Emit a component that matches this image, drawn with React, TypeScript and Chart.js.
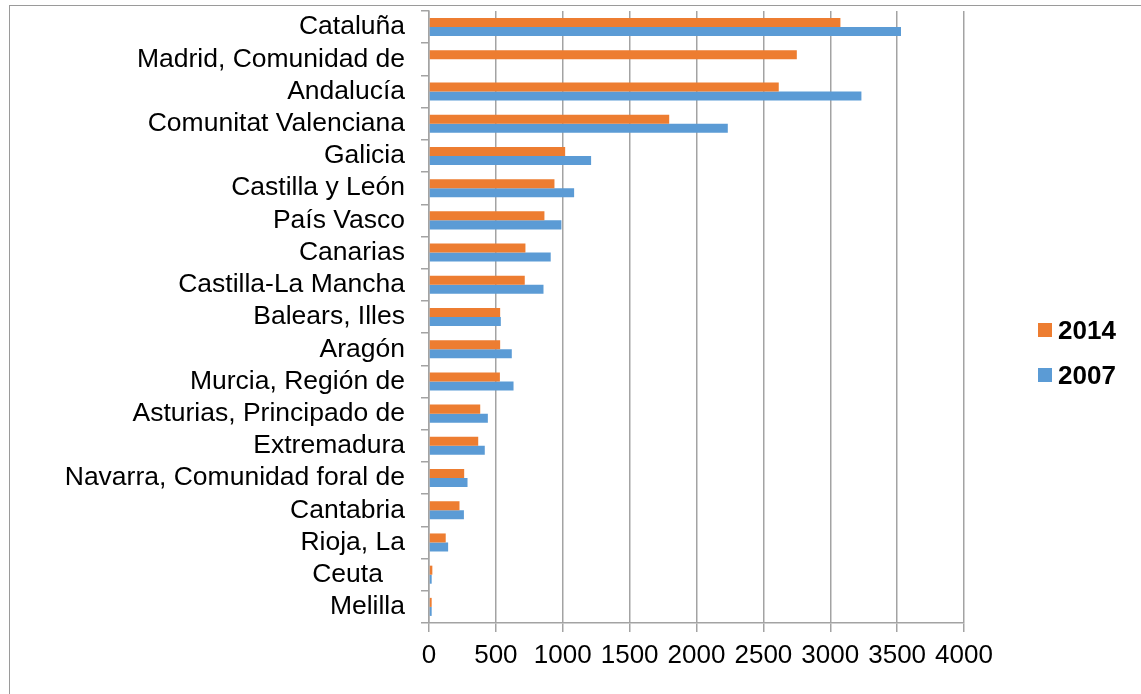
import React, { useEffect, useRef } from "react";
import { Chart, registerables } from "chart.js";

Chart.register(...registerables);

const regions: string[] = [
  "Cataluña",
  "Madrid, Comunidad de",
  "Andalucía",
  "Comunitat Valenciana",
  "Galicia",
  "Castilla y León",
  "País Vasco",
  "Canarias",
  "Castilla-La Mancha",
  "Balears, Illes",
  "Aragón",
  "Murcia, Región de",
  "Asturias, Principado de",
  "Extremadura",
  "Navarra, Comunidad foral de",
  "Cantabria",
  "Rioja, La",
  "Ceuta   ",
  "Melilla",
];

const values2014: (number | null)[] = [
  3076, 2750, 2615, 1796, 1018, 938, 863, 721, 716, 532, 532, 530, 383, 368, 263, 228, 125, 25, 20,
];

const values2007: (number | null)[] = [
  3529, null, 3233, 2234, 1212, 1085, 990, 910, 856, 537, 619, 632, 440, 417, 288, 261, 143, 20, 20,
];

const xTicks: number[] = [0, 500, 1000, 1500, 2000, 2500, 3000, 3500, 4000];

const ORANGE = "#ED7D31";
const BLUE = "#5B9BD5";
const GRID = "#a3a3a3";
const FONT = '"Liberation Sans", Arial, sans-serif';

const legendItems = [
  { label: "2014", color: ORANGE, box: 323, text: 317 },
  { label: "2007", color: BLUE, box: 368, text: 362 },
];

export default function App() {
  const canvasRef = useRef<HTMLCanvasElement | null>(null);

  useEffect(() => {
    const canvas = canvasRef.current;
    if (!canvas) return;
    const chart = new Chart(canvas, {
      type: "bar",
      data: {
        labels: regions,
        datasets: [
          {
            label: "2014",
            data: values2014,
            backgroundColor: ORANGE,
            borderWidth: 0,
          },
          {
            label: "2007",
            data: values2007,
            backgroundColor: BLUE,
            borderWidth: 0,
          },
        ],
      },
      options: {
        indexAxis: "y",
        responsive: false,
        animation: false,
        devicePixelRatio: 1,
        layout: { padding: { left: 0, right: 177, top: 11, bottom: 0 } },
        datasets: {
          bar: { categoryPercentage: 0.56, barPercentage: 1.0 },
        },
        plugins: {
          legend: { display: false },
          tooltip: { enabled: false },
        },
        scales: {
          x: {
            type: "linear",
            min: 0,
            max: 4000,
            afterBuildTicks: (scale: any) => {
              scale.ticks = xTicks.map((v) => ({ value: v }));
            },
            afterFit: (scale: any) => {
              scale.height = 71;
            },
            grid: {
              color: GRID,
              lineWidth: 1.5,
              drawTicks: true,
              tickLength: 9,
              tickColor: GRID,
            },
            border: { display: true, color: GRID, width: 1.5 },
            ticks: {
              padding: 8,
              color: "#000",
              font: { family: FONT, size: 26 },
              maxRotation: 0,
              autoSkip: false,
              callback: (value: any) => String(value),
            },
          },
          y: {
            type: "category",
            afterFit: (scale: any) => {
              scale.width = 429;
              scale.paddingTop = 0;
              scale.paddingBottom = 0;
            },
            grid: {
              offset: true,
              drawOnChartArea: false,
              drawTicks: true,
              tickLength: 8,
              tickColor: GRID,
              lineWidth: 1.5,
            },
            border: { display: true, color: GRID, width: 1.5 },
            ticks: {
              padding: 16,
              color: "#000",
              font: { family: FONT, size: 26.5 },
              autoSkip: false,
            },
          },
        },
      },
    });
    return () => chart.destroy();
  }, []);

  return (
    <div
      style={{
        position: "absolute",
        left: 0,
        top: 0,
        width: 1141,
        height: 694,
        overflow: "hidden",
        background: "#fff",
      }}
    >
      <div
        style={{
          position: "absolute",
          left: 9,
          top: 5,
          width: 1200,
          height: 800,
          borderLeft: "1.5px solid #9a9a9a",
          borderTop: "1.5px solid #9a9a9a",
        }}
      />
      <canvas
        ref={canvasRef}
        width={1141}
        height={694}
        style={{ position: "absolute", left: 0, top: 0 }}
      />
      {legendItems.map((item) => (
        <React.Fragment key={item.label}>
          <div
            style={{
              position: "absolute",
              left: 1038,
              top: item.box,
              width: 14,
              height: 14,
              background: item.color,
            }}
          />
          <div
            style={{
              position: "absolute",
              left: 1058,
              top: item.text,
              fontFamily: FONT,
              fontWeight: "bold",
              fontSize: 26,
              lineHeight: "26px",
              color: "#000",
            }}
          >
            {item.label}
          </div>
        </React.Fragment>
      ))}
    </div>
  );
}
